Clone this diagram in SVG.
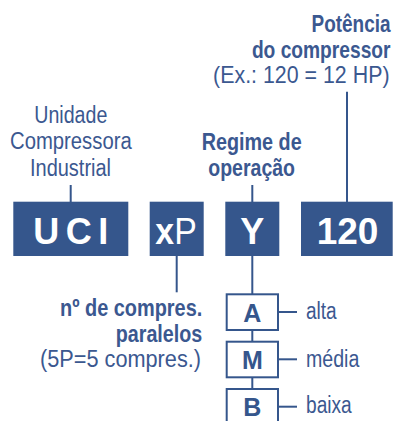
<svg xmlns="http://www.w3.org/2000/svg" width="394" height="421" viewBox="0 0 394 421">
<style>
.t{font-family:"Liberation Sans Narrow","Liberation Sans",Arial,sans-serif;fill:#3b5890;font-size:23.5px}
.b{font-weight:bold;font-size:24px}
.bx{fill:#35568c}
.bt{font-family:"Liberation Sans","Liberation Sans Narrow",Arial,sans-serif;fill:#fff;font-weight:bold;font-size:36px}
.sb{fill:#fff;stroke:#35568c;stroke-width:2}
.st{font-family:"Liberation Sans",Arial,sans-serif;fill:#35568c;font-weight:bold;font-size:25px;text-anchor:middle}
.ln{stroke:#35568c;stroke-width:2;fill:none}
</style>
<rect width="394" height="421" fill="#fff"/>
<g id="connectors">
<line class="ln" x1="70.7" y1="185" x2="70.7" y2="202"/>
<line class="ln" x1="252.3" y1="185" x2="252.3" y2="202"/>
<line class="ln" x1="347" y1="91.7" x2="347" y2="202"/>
<line class="ln" x1="176.7" y1="256" x2="176.7" y2="292.3"/>
<line class="ln" x1="252.3" y1="256" x2="252.3" y2="294"/>
<line class="ln" x1="252.3" y1="330" x2="252.3" y2="342"/>
<line class="ln" x1="252.3" y1="377" x2="252.3" y2="389"/>
<line class="ln" x1="279" y1="312" x2="297" y2="312"/>
<line class="ln" x1="279" y1="359.3" x2="297" y2="359.3"/>
<line class="ln" x1="279" y1="406.7" x2="297" y2="406.7"/>
</g>
<g id="potencia">
<text class="t b" transform="translate(390.5,32.3) scale(0.79,1)" text-anchor="end">Potência</text>
<text class="t b" transform="translate(390.5,58.3) scale(0.8,1)" text-anchor="end">do compressor</text>
<text class="t" transform="translate(389.5,83.3) scale(0.91,1)" text-anchor="end">(Ex.: 120 = 12 HP)</text>
</g>
<g id="unidade">
<text class="t" x="34.3" y="123.3" textLength="73" lengthAdjust="spacingAndGlyphs">Unidade</text>
<text class="t" x="10" y="149.3" textLength="121.7" lengthAdjust="spacingAndGlyphs">Compressora</text>
<text class="t" x="30" y="175.7" textLength="81" lengthAdjust="spacingAndGlyphs">Industrial</text>
</g>
<g id="regime">
<text class="t b" x="201.7" y="150" textLength="100" lengthAdjust="spacingAndGlyphs">Regime de</text>
<text class="t b" x="208.3" y="175.7" textLength="86.7" lengthAdjust="spacingAndGlyphs">operação</text>
</g>
<g id="box-uci">
<rect class="bx" x="13.3" y="201.7" width="115" height="54.3"/>
<text class="bt" x="33.3" y="244" textLength="75" lengthAdjust="spacing">UCI</text>
</g>
<g id="box-xp">
<rect class="bx" x="149.7" y="201.7" width="54" height="54.3"/>
<text class="bt" x="155.3" y="244" textLength="41.4" lengthAdjust="spacingAndGlyphs">x<tspan font-weight="normal">P</tspan></text>
</g>
<g id="box-y">
<rect class="bx" x="225.3" y="201.7" width="54" height="54.3"/>
<text class="bt" x="252.3" y="244" text-anchor="middle">Y</text>
</g>
<g id="box-120">
<rect class="bx" x="301" y="201.7" width="91.7" height="54.3"/>
<text class="bt" x="316.7" y="244" textLength="61.7" lengthAdjust="spacingAndGlyphs">120</text>
</g>
<g id="compres">
<text class="t b" x="202.3" y="316" text-anchor="end" textLength="142.3" lengthAdjust="spacingAndGlyphs">nº de compres.</text>
<text class="t b" x="202.3" y="341.7" text-anchor="end" textLength="86.6" lengthAdjust="spacingAndGlyphs">paralelos</text>
<text class="t" x="40" y="366.7" textLength="161" lengthAdjust="spacingAndGlyphs">(5P=5 compres.)</text>
</g>
<g id="opt-a">
<rect class="sb" x="226.7" y="294.3" width="51.3" height="35.7"/>
<text class="st" x="252.3" y="321.7">A</text>
<text class="t" x="306" y="319.3" textLength="30.7" lengthAdjust="spacingAndGlyphs">alta</text>
</g>
<g id="opt-m">
<rect class="sb" x="226.7" y="341.7" width="51.3" height="35.6"/>
<text class="st" x="252.3" y="369">M</text>
<text class="t" x="306" y="366.7" textLength="53.3" lengthAdjust="spacingAndGlyphs">média</text>
</g>
<g id="opt-b">
<rect class="sb" x="226.7" y="389" width="51.3" height="40"/>
<text class="st" x="252.3" y="415.7">B</text>
<text class="t" x="306" y="413" textLength="45.7" lengthAdjust="spacingAndGlyphs">baixa</text>
</g>
</svg>
